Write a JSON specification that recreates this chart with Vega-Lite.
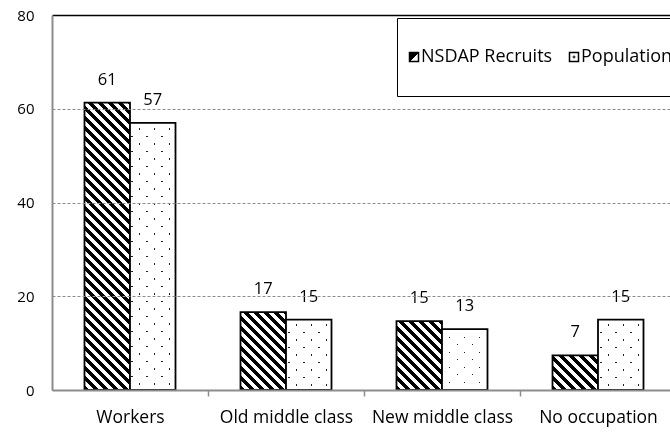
{
  "$schema": "https://vega.github.io/schema/vega-lite/v6.json",
  "width": 618,
  "height": 375,
  "autosize": {"type": "none"},
  "padding": {"left": 52, "top": 15, "right": 0, "bottom": 42},
  "background": "white",
  "params": [
    {"name": "hatch", "value": [
      {"offset":0,"color":"#000"},
      {"offset":0.0125,"color":"#000"},{"offset":0.0125,"color":"#fff"},
      {"offset":0.025,"color":"#fff"},{"offset":0.025,"color":"#000"},
      {"offset":0.0375,"color":"#000"},{"offset":0.0375,"color":"#fff"},
      {"offset":0.05,"color":"#fff"},{"offset":0.05,"color":"#000"},
      {"offset":0.0625,"color":"#000"},{"offset":0.0625,"color":"#fff"},
      {"offset":0.075,"color":"#fff"},{"offset":0.075,"color":"#000"},
      {"offset":0.0875,"color":"#000"},{"offset":0.0875,"color":"#fff"},
      {"offset":0.1,"color":"#fff"},{"offset":0.1,"color":"#000"},
      {"offset":0.1125,"color":"#000"},{"offset":0.1125,"color":"#fff"},
      {"offset":0.125,"color":"#fff"},{"offset":0.125,"color":"#000"},
      {"offset":0.1375,"color":"#000"},{"offset":0.1375,"color":"#fff"},
      {"offset":0.15,"color":"#fff"},{"offset":0.15,"color":"#000"},
      {"offset":0.1625,"color":"#000"},{"offset":0.1625,"color":"#fff"},
      {"offset":0.175,"color":"#fff"},{"offset":0.175,"color":"#000"},
      {"offset":0.1875,"color":"#000"},{"offset":0.1875,"color":"#fff"},
      {"offset":0.2,"color":"#fff"},{"offset":0.2,"color":"#000"},
      {"offset":0.2125,"color":"#000"},{"offset":0.2125,"color":"#fff"},
      {"offset":0.225,"color":"#fff"},{"offset":0.225,"color":"#000"},
      {"offset":0.2375,"color":"#000"},{"offset":0.2375,"color":"#fff"},
      {"offset":0.25,"color":"#fff"},{"offset":0.25,"color":"#000"},
      {"offset":0.2625,"color":"#000"},{"offset":0.2625,"color":"#fff"},
      {"offset":0.275,"color":"#fff"},{"offset":0.275,"color":"#000"},
      {"offset":0.2875,"color":"#000"},{"offset":0.2875,"color":"#fff"},
      {"offset":0.3,"color":"#fff"},{"offset":0.3,"color":"#000"},
      {"offset":0.3125,"color":"#000"},{"offset":0.3125,"color":"#fff"},
      {"offset":0.325,"color":"#fff"},{"offset":0.325,"color":"#000"},
      {"offset":0.3375,"color":"#000"},{"offset":0.3375,"color":"#fff"},
      {"offset":0.35,"color":"#fff"},{"offset":0.35,"color":"#000"},
      {"offset":0.3625,"color":"#000"},{"offset":0.3625,"color":"#fff"},
      {"offset":0.375,"color":"#fff"},{"offset":0.375,"color":"#000"},
      {"offset":0.3875,"color":"#000"},{"offset":0.3875,"color":"#fff"},
      {"offset":0.4,"color":"#fff"},{"offset":0.4,"color":"#000"},
      {"offset":0.4125,"color":"#000"},{"offset":0.4125,"color":"#fff"},
      {"offset":0.425,"color":"#fff"},{"offset":0.425,"color":"#000"},
      {"offset":0.4375,"color":"#000"},{"offset":0.4375,"color":"#fff"},
      {"offset":0.45,"color":"#fff"},{"offset":0.45,"color":"#000"},
      {"offset":0.4625,"color":"#000"},{"offset":0.4625,"color":"#fff"},
      {"offset":0.475,"color":"#fff"},{"offset":0.475,"color":"#000"},
      {"offset":0.4875,"color":"#000"},{"offset":0.4875,"color":"#fff"},
      {"offset":0.5,"color":"#fff"},{"offset":0.5,"color":"#000"},
      {"offset":0.5125,"color":"#000"},{"offset":0.5125,"color":"#fff"},
      {"offset":0.525,"color":"#fff"},{"offset":0.525,"color":"#000"},
      {"offset":0.5375,"color":"#000"},{"offset":0.5375,"color":"#fff"},
      {"offset":0.55,"color":"#fff"},{"offset":0.55,"color":"#000"},
      {"offset":0.5625,"color":"#000"},{"offset":0.5625,"color":"#fff"},
      {"offset":0.575,"color":"#fff"},{"offset":0.575,"color":"#000"},
      {"offset":0.5875,"color":"#000"},{"offset":0.5875,"color":"#fff"},
      {"offset":0.6,"color":"#fff"},{"offset":0.6,"color":"#000"},
      {"offset":0.6125,"color":"#000"},{"offset":0.6125,"color":"#fff"},
      {"offset":0.625,"color":"#fff"},{"offset":0.625,"color":"#000"},
      {"offset":0.6375,"color":"#000"},{"offset":0.6375,"color":"#fff"},
      {"offset":0.65,"color":"#fff"},{"offset":0.65,"color":"#000"},
      {"offset":0.6625,"color":"#000"},{"offset":0.6625,"color":"#fff"},
      {"offset":0.675,"color":"#fff"},{"offset":0.675,"color":"#000"},
      {"offset":0.6875,"color":"#000"},{"offset":0.6875,"color":"#fff"},
      {"offset":0.7,"color":"#fff"},{"offset":0.7,"color":"#000"},
      {"offset":0.7125,"color":"#000"},{"offset":0.7125,"color":"#fff"},
      {"offset":0.725,"color":"#fff"},{"offset":0.725,"color":"#000"},
      {"offset":0.7375,"color":"#000"},{"offset":0.7375,"color":"#fff"},
      {"offset":0.75,"color":"#fff"},{"offset":0.75,"color":"#000"},
      {"offset":0.7625,"color":"#000"},{"offset":0.7625,"color":"#fff"},
      {"offset":0.775,"color":"#fff"},{"offset":0.775,"color":"#000"},
      {"offset":0.7875,"color":"#000"},{"offset":0.7875,"color":"#fff"},
      {"offset":0.8,"color":"#fff"},{"offset":0.8,"color":"#000"},
      {"offset":0.8125,"color":"#000"},{"offset":0.8125,"color":"#fff"},
      {"offset":0.825,"color":"#fff"},{"offset":0.825,"color":"#000"},
      {"offset":0.8375,"color":"#000"},{"offset":0.8375,"color":"#fff"},
      {"offset":0.85,"color":"#fff"},{"offset":0.85,"color":"#000"}
    ]},
    {"name": "dots", "value": [
      {"offset":0,"color":"#222"},{"offset":0.004,"color":"#222"},{"offset":0.004,"color":"#fff"},
      {"offset":0.04,"color":"#fff"},{"offset":0.04,"color":"#222"},{"offset":0.044,"color":"#222"},{"offset":0.044,"color":"#fff"},
      {"offset":0.08,"color":"#fff"},{"offset":0.08,"color":"#222"},{"offset":0.084,"color":"#222"},{"offset":0.084,"color":"#fff"},
      {"offset":0.12,"color":"#fff"},{"offset":0.12,"color":"#222"},{"offset":0.124,"color":"#222"},{"offset":0.124,"color":"#fff"},
      {"offset":0.16,"color":"#fff"},{"offset":0.16,"color":"#222"},{"offset":0.164,"color":"#222"},{"offset":0.164,"color":"#fff"},
      {"offset":0.2,"color":"#fff"},{"offset":0.2,"color":"#222"},{"offset":0.204,"color":"#222"},{"offset":0.204,"color":"#fff"},
      {"offset":0.24,"color":"#fff"},{"offset":0.24,"color":"#222"},{"offset":0.244,"color":"#222"},{"offset":0.244,"color":"#fff"},
      {"offset":0.28,"color":"#fff"},{"offset":0.28,"color":"#222"},{"offset":0.284,"color":"#222"},{"offset":0.284,"color":"#fff"},
      {"offset":0.32,"color":"#fff"},{"offset":0.32,"color":"#222"},{"offset":0.324,"color":"#222"},{"offset":0.324,"color":"#fff"},
      {"offset":0.36,"color":"#fff"},{"offset":0.36,"color":"#222"},{"offset":0.364,"color":"#222"},{"offset":0.364,"color":"#fff"},
      {"offset":0.4,"color":"#fff"},{"offset":0.4,"color":"#222"},{"offset":0.404,"color":"#222"},{"offset":0.404,"color":"#fff"},
      {"offset":0.44,"color":"#fff"},{"offset":0.44,"color":"#222"},{"offset":0.444,"color":"#222"},{"offset":0.444,"color":"#fff"},
      {"offset":0.48,"color":"#fff"},{"offset":0.48,"color":"#222"},{"offset":0.484,"color":"#222"},{"offset":0.484,"color":"#fff"},
      {"offset":0.52,"color":"#fff"},{"offset":0.52,"color":"#222"},{"offset":0.524,"color":"#222"},{"offset":0.524,"color":"#fff"},
      {"offset":0.56,"color":"#fff"},{"offset":0.56,"color":"#222"},{"offset":0.564,"color":"#222"},{"offset":0.564,"color":"#fff"},
      {"offset":0.6,"color":"#fff"},{"offset":0.6,"color":"#222"},{"offset":0.604,"color":"#222"},{"offset":0.604,"color":"#fff"},
      {"offset":0.64,"color":"#fff"},{"offset":0.64,"color":"#222"},{"offset":0.644,"color":"#222"},{"offset":0.644,"color":"#fff"},
      {"offset":0.68,"color":"#fff"},{"offset":0.68,"color":"#222"},{"offset":0.684,"color":"#222"},{"offset":0.684,"color":"#fff"},
      {"offset":0.72,"color":"#fff"},{"offset":0.72,"color":"#222"},{"offset":0.724,"color":"#222"},{"offset":0.724,"color":"#fff"},
      {"offset":0.76,"color":"#fff"},{"offset":0.76,"color":"#222"},{"offset":0.764,"color":"#222"},{"offset":0.764,"color":"#fff"},
      {"offset":0.8,"color":"#fff"},{"offset":0.8,"color":"#222"},{"offset":0.804,"color":"#222"},{"offset":0.804,"color":"#fff"},
      {"offset":0.84,"color":"#fff"},{"offset":0.84,"color":"#222"},{"offset":0.844,"color":"#222"},{"offset":0.844,"color":"#fff"}
    ]}
  ],
  "data": {"values": [
    {"category": "Workers", "series": "NSDAP Recruits", "value": 61.3},
    {"category": "Workers", "series": "Population", "value": 57},
    {"category": "Old middle class", "series": "NSDAP Recruits", "value": 16.6},
    {"category": "Old middle class", "series": "Population", "value": 15},
    {"category": "New middle class", "series": "NSDAP Recruits", "value": 14.7},
    {"category": "New middle class", "series": "Population", "value": 13},
    {"category": "No occupation", "series": "NSDAP Recruits", "value": 7.4},
    {"category": "No occupation", "series": "Population", "value": 15}
  ]},
  "encoding": {
    "x": {
      "field": "category", "type": "nominal", "sort": null,
      "scale": {"paddingInner": 0.41667, "paddingOuter": 0.1891, "align": 0.5508},
      "axis": {"title": null, "labelAngle": 0, "labelFontSize": 17.5, "domainColor": "#8c8c8c", "domainWidth": 2, "tickColor": "#8c8c8c", "tickWidth": 1.5, "tickSize": 6, "tickOffset": 78, "labelOffset": -78, "labelPadding": 12, "grid": false, "zindex": 1}
    },
    "xOffset": {"field": "series", "type": "nominal", "scale": {"domain": ["NSDAP Recruits", "Population"]}},
    "y": {
      "field": "value", "type": "quantitative", "stack": null,
      "scale": {"domain": [0, 80], "nice": false},
      "axis": {
        "title": null, "values": [0, 20, 40, 60, 80], "labelFontSize": 15, "domainColor": "#8c8c8c", "domainWidth": 2, "ticks": false, "labelPadding": 18,
        "grid": true,
        "gridColor": {"condition": {"test": "datum.value === 80", "value": "black"}, "value": "#8c8c8c"},
        "gridDash": {"condition": {"test": "datum.value === 80", "value": []}, "value": [3, 2]},
        "gridWidth": {"condition": {"test": "datum.value === 80", "value": 1.5}, "value": 1},
        "zindex": 1
      }
    }
  },
  "layer": [
    {
      "mark": {"type": "bar", "strokeWidth": 1.8},
      "encoding": {
        "stroke": {
          "field": "series", "type": "nominal",
          "scale": {"domain": ["NSDAP Recruits", "Population", "p1", "p2", "p3"], "range": ["black", "black", "transparent", "transparent", "transparent"]},
          "legend": {
            "title": null, "orient": "none", "legendX": 345, "legendY": 3, "direction": "horizontal", "columns": 2,
            "values": ["p1", "p2", "NSDAP Recruits", "Population", "p3"],
            "strokeColor": "black", "fillColor": "white", "padding": 8, "cornerRadius": 0, "rowPadding": 4,
            "symbolType": "square", "symbolSize": 81, "symbolStrokeWidth": 1.5,
            "labelFontSize": 18, "labelFont": "Open Sans", "labelColor": "black", "labelOffset": -2, "labelLimit": 300,
            "columnPadding": 12,
            "labelExpr": "datum.value === 'NSDAP Recruits' || datum.value === 'Population' ? datum.label : ''"
          }
        },
        "fill": {"value": {"expr": "datum.series ? {gradient: 'linear', x1: 0, y1: 1, x2: (datum.series === 'NSDAP Recruits' ? 400 : 375) * bandwidth('xOffset') / (bandwidth('xOffset') * bandwidth('xOffset') + (scale('y', 0) - scale('y', datum.value)) * (scale('y', 0) - scale('y', datum.value))), y2: 1 - (datum.series === 'NSDAP Recruits' ? 400 : 375) * (scale('y', 0) - scale('y', datum.value)) / (bandwidth('xOffset') * bandwidth('xOffset') + (scale('y', 0) - scale('y', datum.value)) * (scale('y', 0) - scale('y', datum.value))), stops: (datum.series === 'NSDAP Recruits' ? hatch : dots)} : datum.value === 'NSDAP Recruits' ? {gradient: 'linear', x1: 0, y1: 0, x2: 1, y2: 1, stops: [{offset: 0, color: '#000'}, {offset: 0.5, color: '#000'}, {offset: 0.5, color: '#fff'}, {offset: 1, color: '#fff'}]} : datum.value === 'Population' ? {gradient: 'radial', x1: 0.5, y1: 0.5, r1: 0, x2: 0.5, y2: 0.5, r2: 0.5, stops: [{offset: 0, color: '#000'}, {offset: 0.3, color: '#000'}, {offset: 0.3, color: '#fff'}, {offset: 1, color: '#fff'}]} : 'transparent'"}}
      }
    },
    {
      "transform": [{"filter": "datum.series === 'Population'"}],
      "mark": {"type": "bar", "stroke": "black", "strokeWidth": 1.8, "blend": "lighten"},
      "encoding": {
        "fill": {"value": {"expr": "{gradient: 'linear', x1: 0, y1: 0, x2: 375 * bandwidth('xOffset') / (bandwidth('xOffset') * bandwidth('xOffset') + (scale('y', 0) - scale('y', datum.value)) * (scale('y', 0) - scale('y', datum.value))), y2: 375 * (scale('y', 0) - scale('y', datum.value)) / (bandwidth('xOffset') * bandwidth('xOffset') + (scale('y', 0) - scale('y', datum.value)) * (scale('y', 0) - scale('y', datum.value))), stops: dots}"}}
      }
    },
    {
      "mark": {"type": "text", "baseline": "middle", "dy": -23, "fontSize": 16.5, "font": "Open Sans", "color": "black"},
      "encoding": {"text": {"field": "value", "type": "quantitative", "format": ".0f"}}
    }
  ],
  "config": {
    "view": {"stroke": null},
    "axis": {"labelFont": "Open Sans", "labelColor": "black"}
  }
}
